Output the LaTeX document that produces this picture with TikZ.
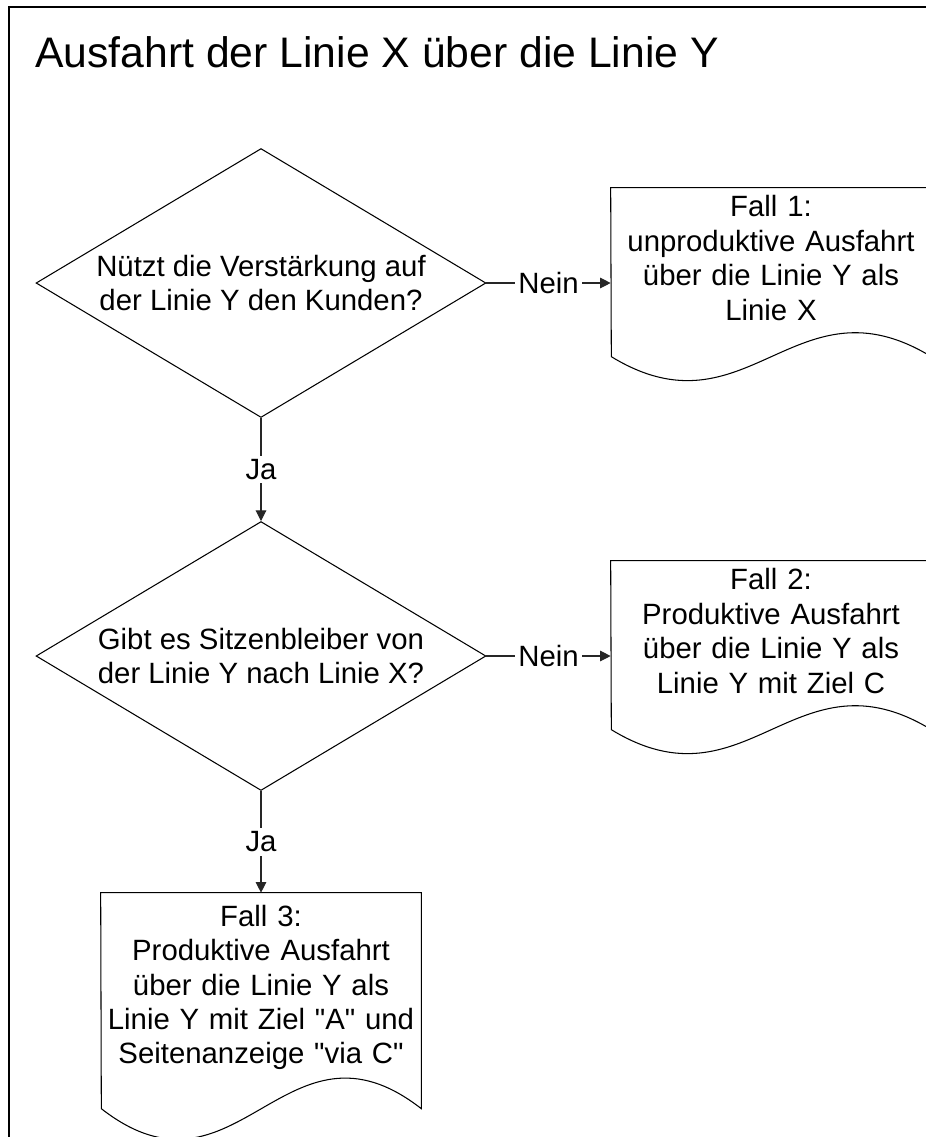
\documentclass[tikz,border=0pt]{standalone}
\usepackage{fontspec}
\setmainfont{Liberation Sans}[Ligatures=TeXOff]
\usetikzlibrary{shapes.geometric,arrows.meta}

\begin{document}
\begin{tikzpicture}[x=0.02cm, y=-0.02cm]
    \def\w{320}

    % --- DEFINE STYLES ---
    % Style for the yes/no questions
    \tikzstyle{decision} = [diamond, draw, line width=0.6pt, aspect=1.673, minimum width=9cm, minimum height=5.38cm, inner sep=0pt, align=center, font=\fontsize{16.7}{19.6}\selectfont]
    % Style for the text part of the document shapes
    \tikzstyle{docbox} = [rectangle, minimum width=6.4cm, text width=6.3cm, inner sep=0pt, align=center, font=\fontsize{16.7}{19.6}\selectfont]
    \tikzstyle{docline} = [line width=0.6pt]
    % Connectors and their answers
    \tikzstyle{conn} = [draw, black!85, line width=0.6pt, -{Triangle[length=6pt, width=6pt]}]
    \tikzstyle{answer} = [fill=white, inner xsep=2pt, inner ysep=2pt, text=black, font=\fontsize{16.7}{19.6}\selectfont]

    \useasboundingbox (0,0) rectangle (926,1137);
    \clip (0,0) rectangle (926,1137);

    % Frame and title
    \draw[line width=1.1pt] (9,7) rectangle (960,1170);
    \node[anchor=base west, inner sep=0pt, font=\fontsize{24.3}{29}\selectfont] (title) at (35,67) {Ausfahrt der Linie X über die Linie Y};

    % --- QUESTIONS ---
    \node[decision] (q1) at (261,283) {Nützt die Verstärkung auf\\der Linie Y den Kunden?};
    \node[decision] (q2) at (261,656) {Gibt es Sitzenbleiber von\\der Linie Y nach Linie X?};

    % --- CASES ---
    \node[docbox, minimum height=2.8cm] (f1) at (771,258) {Fall 1:\\unproduktive Ausfahrt\\über die Linie Y als\\Linie X};
    \node[docbox, minimum height=2.8cm] (f2) at (771,631) {Fall 2:\\Produktive Ausfahrt\\über die Linie Y als\\Linie Y mit Ziel C};
    \node[docbox, minimum height=3.78cm] (f3) at (261,987.5) {Fall 3:\\Produktive Ausfahrt\\über die Linie Y als\\Linie Y mit Ziel "A" und\\Seitenanzeige "via C"};

    % Document outlines with wavy bottom
    \foreach \n/\h/\a in {f1/169/83, f2/169/83, f3/216/106} {
        \draw[docline] (\n.north east) -- ++(0,\h) .. controls +(-136,-\a) and +(136,\a) .. ++(-\w,0) -- (\n.north west) -- cycle;
    }

    % --- CONNECTORS ---
    \draw[conn] (q1.east) -- node[answer] {Nein} (q1.east -| f1.west);
    \draw[conn] (q1.south) -- node[answer] {Ja} (q2.north);
    \draw[conn] (q2.east) -- node[answer] {Nein} (q2.east -| f2.west);
    \draw[conn] (q2.south) -- node[answer] {Ja} (f3.north);
\end{tikzpicture}
\end{document}
